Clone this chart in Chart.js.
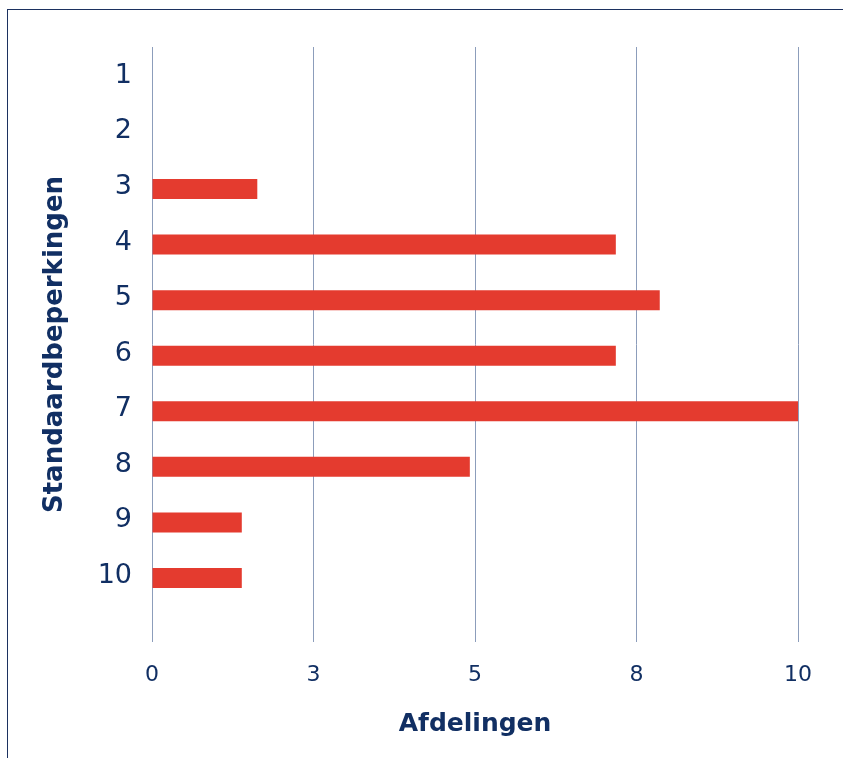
<!DOCTYPE html>
<html><head><meta charset="utf-8">
<script src="https://cdn.jsdelivr.net/npm/chart.js@4.4.1/dist/chart.umd.min.js"></script>
<style>
html,body{margin:0;padding:0;background:#fff;overflow:hidden;}
#wrap{position:relative;width:843px;height:758px;overflow:hidden;}
#frame{position:absolute;left:7px;top:9px;width:900px;height:800px;border:1px solid #1c3160;box-sizing:border-box;pointer-events:none;}
canvas{position:absolute;left:0;top:0;}
</style></head><body>
<div id="wrap"><canvas id="c" width="843" height="758"></canvas><div id="frame"></div></div>
<script>
const categories = [1, 2, 3, 4, 5, 6, 7, 8, 9, 10];
const categoryLabels = ['1', '2', '3', '4', '5', '6', '7', '8', '9', '10'];
const values = [0, 0, 1.63, 7.18, 7.86, 7.18, 10, 4.92, 1.39, 1.39];
const xTickValues = [0, 2.5, 5, 7.5, 10];
const xTickLabels = ['0', '3', '5', '8', '10'];
const xTitle = 'Afdelingen';
const yTitle = 'Standaardbeperkingen';

const NAVY = '#112f63';
const FONT = "'DejaVu Sans', Verdana, sans-serif";

new Chart(document.getElementById('c'), {
  type: 'bar',
  data: {
    datasets: [{
      data: categories.map((c, i) => ({ x: values[i], y: c })),
      backgroundColor: '#e43b2f',
      borderWidth: 0,
      inflateAmount: 0,
      barThickness: 20
    }]
  },
  options: {
    indexAxis: 'y',
    responsive: false,
    animation: false,
    devicePixelRatio: 1,
    layout: { padding: { top: 47, right: 45, bottom: 0, left: 0 } },
    plugins: { legend: { display: false }, tooltip: { enabled: false } },
    scales: {
      x: {
        type: 'linear',
        position: 'bottom',
        bounds: 'data',
        min: 0,
        max: 10,
        afterBuildTicks: s => { s.ticks = xTickValues.map(v => ({ value: v })); },
        afterFit: s => { s.height = 116; },
        ticks: {
          callback: (v, i) => xTickLabels[i],
          font: { size: 22, family: FONT },
          color: NAVY,
          padding: 20,
          maxRotation: 0,
          autoSkip: false
        },
        grid: { color: '#8c9dbb', lineWidth: 1, drawTicks: false },
        border: { display: false },
        title: {
          display: true,
          text: xTitle,
          color: NAVY,
          font: { size: 25, weight: 'bold', family: FONT },
          padding: { top: 0, bottom: 19 }
        }
      },
      y: {
        type: 'linear',
        reverse: true,
        offset: false,
        bounds: 'data',
        min: 0.445,
        max: 11.152,
        afterBuildTicks: s => { s.ticks = categories.map(v => ({ value: v })); },
        afterFit: s => { s.width = 152; },
        ticks: {
          callback: (v, i) => categoryLabels[i],
          font: { size: 27, family: FONT },
          color: NAVY,
          padding: 20,
          labelOffset: -2,
          autoSkip: false
        },
        grid: { display: false, drawTicks: false, offset: false },
        border: { display: false },
        title: {
          display: true,
          text: yTitle,
          color: NAVY,
          font: { size: 26, weight: 'bold', family: FONT },
          padding: { top: 40, bottom: 0 }
        }
      }
    }
  }
});
</script>
</body></html>
